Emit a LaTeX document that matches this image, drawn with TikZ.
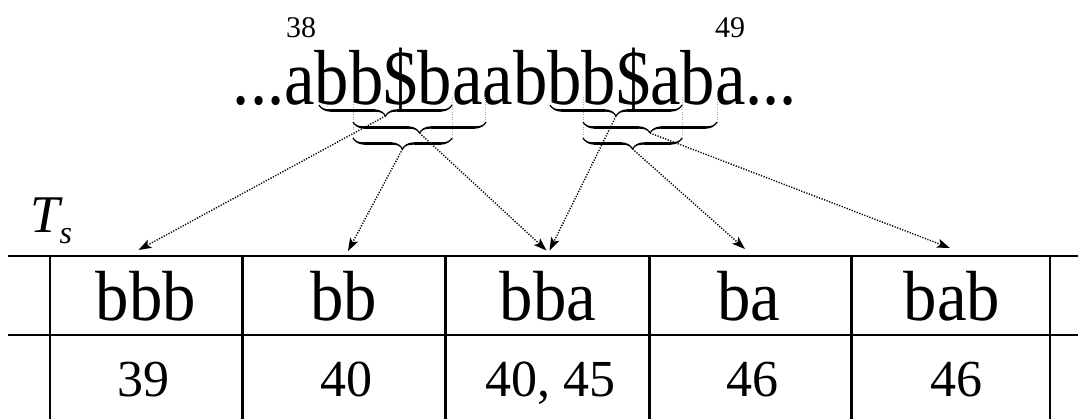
\documentclass[tikz,border=0pt]{standalone}
\usepackage{fontspec}
\setmainfont{Liberation Serif}
\usetikzlibrary{arrows.meta,decorations.pathreplacing,calligraphy}
\begin{document}
\begin{tikzpicture}[x=1pt,y=-1pt,
  brc/.style={decorate,decoration={calligraphic brace,mirror,amplitude=11pt},line width=2.4pt,pen colour={black}},
  guide/.style={black!35,line width=0.6pt,dash pattern=on 1pt off 1.5pt},
  arr/.style={line width=1.4pt,dash pattern=on 1.2pt off 1.5pt,-{Stealth[length=13pt,width=9pt,inset=3pt]}},
  hline/.style={line width=2.4pt},
  vline/.style={line width=2.8pt},
  hdr/.style={inner sep=0pt,anchor=base,font=\fontsize{71}{71}\selectfont},
  num/.style={inner sep=0pt,anchor=base,font=\fontsize{52}{52}\selectfont},
  sup/.style={inner sep=0pt,anchor=base,font=\fontsize{30}{30}\selectfont},
]
\useasboundingbox (0,0) rectangle (1078,419);

% string
\node[inner sep=0pt,anchor=base,font=\fontsize{78}{78}\selectfont] (str) at (515,105)
  {\scalebox{0.88}[1]{...abb\$baabbb\$aba...}};
\node[sup] (p38) at (301,38) {38};
\node[sup] (p49) at (730,38) {49};

% guides
\draw[guide] (353,97) -- (353,140);
\draw[guide] (452,97) -- (452,140);
\draw[guide] (485.5,97) -- (485.5,124);
\draw[guide] (583,97) -- (583,140);
\draw[guide] (682,97) -- (682,140);
\draw[guide] (717,97) -- (717,124);

% braces
\draw[brc] (319,105) -- (452,105);
\draw[brc] (353,122) -- (486,122);
\draw[brc] (353,138) -- (452,138);
\draw[brc] (550,105) -- (682,105);
\draw[brc] (583,122) -- (717,122);
\draw[brc] (583,138) -- (682,138);

\coordinate (L1) at (385.5,116);
\coordinate (L2) at (419.5,133);
\coordinate (L3) at (402.5,149);
\coordinate (R1) at (616,116);
\coordinate (R2) at (650,133);
\coordinate (R3) at (632.5,149);

% T_s
\node[inner sep=0pt,anchor=base west] (ts) at (30,233)
  {{\fontsize{53}{53}\selectfont\itshape T}\raisebox{-11pt}{\fontsize{32}{32}\selectfont\itshape s}};

% table
\draw[hline] (8,256) -- (1078,256);
\draw[line width=2pt] (8,334.5) -- (1078,334.5);
\foreach \x in {50,242.5,445.5,649.5,851.5,1050}
  \draw[vline] (\x,256) -- (\x,419);

\node[hdr] (h1) at (146,320) {\scalebox{0.94}[1]{bbb}};
\node[hdr] (h2) at (343.5,320) {\scalebox{0.94}[1]{bb}};
\node[hdr] (h3) at (548,320) {\scalebox{0.94}[1]{bba}};
\node[hdr] (h4) at (749,320) {\scalebox{0.94}[1]{ba}};
\node[hdr] (h5) at (952,320) {\scalebox{0.94}[1]{bab}};

\node[num] (n1) at (143,396) {39};
\node[num] (n2) at (346,396) {40};
\node[num] (n3) at (550,396) {40, 45};
\node[num] (n4) at (752,396) {46};
\node[num] (n5) at (956,396) {46};

% arrow targets
\coordinate (a1) at (138.5,250);
\coordinate (a2) at (348,251);
\coordinate (a3) at (546.5,250.5);
\coordinate (a4) at (549.5,250.5);
\coordinate (a5) at (745,249);
\coordinate (a6) at (950,248);

\draw[arr] (L1) -- (a1);
\draw[arr] (L3) -- (a2);
\draw[arr] (L2) -- (a3);
\draw[arr] (R1) -- (a4);
\draw[arr] (R3) -- (a5);
\draw[arr] (R2) -- (a6);
\end{tikzpicture}
\end{document}
